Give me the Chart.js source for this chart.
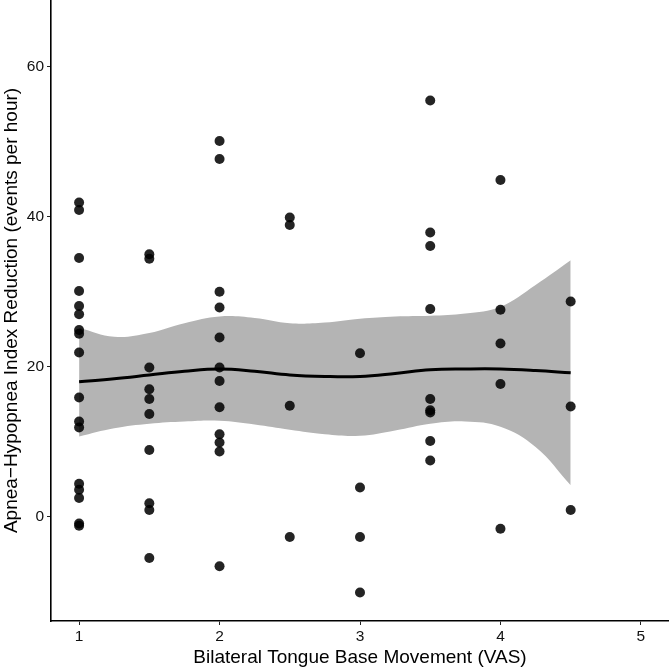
<!DOCTYPE html>
<html>
<head>
<meta charset="utf-8">
<script src="https://cdn.jsdelivr.net/npm/chart.js@4"></script>
<style>
  body { margin: 0; background: #fff; }
  #wrap { width: 669px; height: 669px; }
</style>
</head>
<body>
<div id="wrap"><canvas id="vasChart" width="669" height="669"></canvas></div>
<script>
// VAS score per patient and AHI reduction
const vasScores = [
  1, 1, 1, 1, 1, 1, 1, 1, 1, 1, 1, 1, 1, 1, 1, 1, 1,
  1.5, 1.5, 1.5, 1.5, 1.5, 1.5, 1.5, 1.5, 1.5, 1.5,
  2, 2, 2, 2, 2, 2, 2, 2, 2, 2, 2, 2,
  2.5, 2.5, 2.5, 2.5,
  3, 3, 3, 3,
  3.5, 3.5, 3.5, 3.5, 3.5, 3.5, 3.5, 3.5, 3.5,
  4, 4, 4, 4, 4,
  4.5, 4.5, 4.5
];
const ahiReduction = [
  41.9, 40.9, 34.5, 30.1, 28.1, 27.0, 24.9, 24.4, 21.9, 15.9, 12.7, 11.9, 4.4, 3.6, 2.5, -0.9, -1.2,
  35.0, 34.4, 19.9, 17.0, 15.7, 13.7, 8.9, 1.8, 0.9, -5.5,
  50.1, 47.7, 30.0, 27.9, 23.9, 19.9, 18.1, 14.6, 11.0, 9.9, 8.7, -6.6,
  39.9, 38.9, 14.8, -2.7,
  21.8, 3.9, -2.7, -10.1,
  55.5, 37.9, 36.1, 27.7, 15.7, 14.2, 13.9, 10.1, 7.5,
  44.9, 27.6, 23.1, 17.7, -1.6,
  28.7, 14.7, 0.9
];

// loess fit and confidence band
const fitX     = [1, 1.25, 1.5, 1.75, 2, 2.25, 2.5, 2.75, 3, 3.25, 3.5, 3.75, 4, 4.25, 4.5];
const fitY     = [18.0, 18.4, 18.9, 19.4, 19.7, 19.4, 18.9, 18.7, 18.7, 19.1, 19.6, 19.7, 19.7, 19.5, 19.2];
const bandHigh = [25.2, 24.0, 24.5, 25.8, 26.7, 26.5, 25.8, 25.9, 26.4, 26.7, 26.8, 27.1, 28.0, 30.9, 34.2];
const bandLow  = [10.7, 11.8, 12.4, 12.7, 12.8, 12.3, 11.6, 11.0, 10.8, 11.5, 12.4, 12.7, 12.0, 9.3, 4.2];

const xTicks = [1, 2, 3, 4, 5];
const yTicks = [0, 20, 40, 60];

const toXY = (xs, ys) => xs.map((x, i) => ({ x: x, y: ys[i] }));

const tickFont = { family: 'Liberation Sans, Arial, sans-serif', size: 15.5 };
const titleFont = { family: 'Liberation Sans, Arial, sans-serif', size: 19 };

const ctx = document.getElementById('vasChart');
new Chart(ctx, {
  type: 'scatter',
  data: {
    datasets: [
      {
        label: 'patients',
        data: toXY(vasScores, ahiReduction),
        backgroundColor: 'rgba(0,0,0,0.86)',
        borderWidth: 0,
        pointRadius: 5,
        order: 0
      },
      {
        label: 'fit',
        data: toXY(fitX, fitY),
        showLine: true,
        borderColor: '#000',
        borderWidth: 3,
        pointRadius: 0,
        tension: 0.4,
        order: 1
      },
      {
        label: 'upper',
        data: toXY(fitX, bandHigh),
        showLine: true,
        borderWidth: 0,
        borderColor: 'rgba(0,0,0,0)',
        backgroundColor: '#b4b4b4',
        pointRadius: 0,
        tension: 0.4,
        fill: 3,
        order: 2
      },
      {
        label: 'lower',
        data: toXY(fitX, bandLow),
        showLine: true,
        borderWidth: 0,
        borderColor: 'rgba(0,0,0,0)',
        pointRadius: 0,
        tension: 0.4,
        fill: false,
        order: 3
      }
    ]
  },
  options: {
    responsive: false,
    animation: false,
    layout: { padding: 0, autoPadding: false },
    plugins: {
      legend: { display: false },
      tooltip: { enabled: false }
    },
    scales: {
      x: {
        type: 'linear',
        min: 0.8,
        max: 5.2,
        afterBuildTicks: (scale) => { scale.ticks = xTicks.map(v => ({ value: v })); },
        afterFit: (scale) => {
          scale.height = 48;
          scale.paddingLeft = 0;
          scale.paddingRight = 0;
        },
        grid: { drawOnChartArea: false, drawTicks: true, tickLength: 4, color: '#222', lineWidth: 1 },
        border: { display: true, color: '#000', width: 1.6 },
        ticks: { color: '#111', font: tickFont, padding: 2, maxRotation: 0 },
        title: {
          display: true,
          text: 'Bilateral Tongue Base Movement (VAS)',
          color: '#000',
          font: titleFont,
          padding: { top: 0, bottom: 0 }
        }
      },
      y: {
        type: 'linear',
        min: -13.9,
        max: 68.9,
        afterBuildTicks: (scale) => { scale.ticks = yTicks.map(v => ({ value: v })); },
        afterFit: (scale) => {
          scale.width = 51;
          scale.paddingTop = 0;
          scale.paddingBottom = 0;
        },
        grid: { drawOnChartArea: false, drawTicks: true, tickLength: 4, color: '#222', lineWidth: 1 },
        border: { display: true, color: '#000', width: 1.6 },
        ticks: { color: '#111', font: tickFont, padding: 3 },
        title: {
          display: true,
          text: 'Apnea\u2212Hypopnea Index Reduction (events per hour)',
          color: '#000',
          font: titleFont,
          padding: { top: 0, bottom: 0 }
        }
      }
    }
  }
});
</script>
</body>
</html>
